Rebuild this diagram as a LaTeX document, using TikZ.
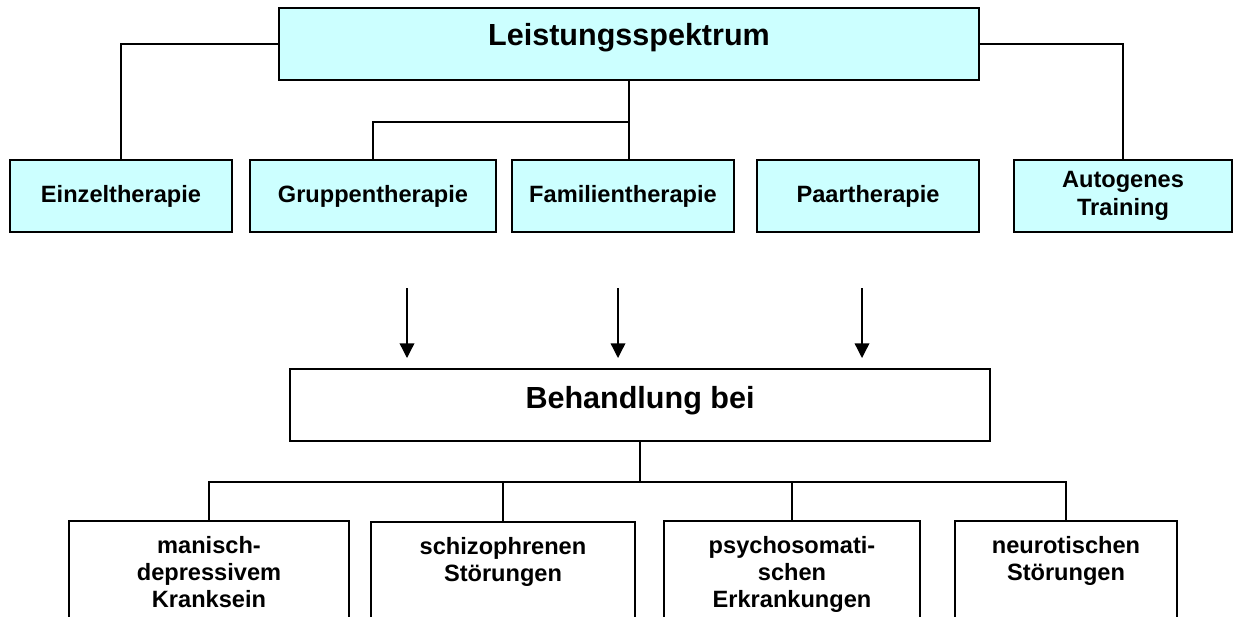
\documentclass[tikz,border=0pt]{standalone}
\usepackage{fontspec}
\setmainfont{Liberation Sans}
\usetikzlibrary{arrows.meta,calc,positioning}
\definecolor{boxcyan}{HTML}{CCFFFF}
\newcommand{\toplines}[1]{\begin{tabular}[t]{@{}c@{}}#1\end{tabular}}
\tikzset{%
	title/.style    = {draw, line width=1.4pt, inner sep=0pt, font=\fontsize{22.9}{27}\selectfont\bfseries},
	therapy/.style  = {draw, fill=boxcyan, line width=1.4pt, inner sep=0pt, minimum height=54pt, align=center, font=\fontsize{17.7}{20.5}\selectfont\bfseries},
	disorder/.style = {draw, line width=1.4pt, inner sep=0pt, anchor=north, text height=24.75pt, text depth=90pt, font=\fontsize{17.7}{20}\selectfont\bfseries},
	link/.style     = {line width=1.4pt},
	arrow/.style    = {line width=1pt, -{Triangle[length=11pt,width=11pt]}},
}

\begin{document}
\begin{tikzpicture}[x=0.75pt, y=-0.75pt]
	\useasboundingbox (0,0) rectangle (1235,617);
	\clip (0,0) rectangle (1235,617);
	% top level
	\node[title, fill=boxcyan, minimum width=525pt, text height=28.5pt, text depth=25.5pt] (spektrum) at (629,44) {Leistungsspektrum};
	\node[therapy, minimum width=166.5pt] (einzel) at (121,196) {Einzeltherapie};
	\node[therapy, minimum width=184.5pt] (gruppe) at (373,196) {Gruppentherapie};
	\node[therapy, minimum width=166.5pt] (familie) at (623,196) {Familientherapie};
	\node[therapy, minimum width=166.5pt] (paar) at (868,196) {Paartherapie};
	\node[therapy, minimum width=163.5pt] (autogen) at (1123,196) {Autogenes\\Training};
	\coordinate (fork) at ($(spektrum.south)+(0,41)$);
	\draw[link] (spektrum.west) -| (einzel.north);
	\draw[link] (spektrum.east) -| (autogen.north);
	\draw[link] (spektrum.south) -- (spektrum.south |- familie.north);
	\draw[link] (fork) -| (gruppe.north);
	% arrows
	\node[title, minimum width=525pt, text height=29.25pt, text depth=24.75pt] (behandlung) at (640,405) {Behandlung bei};
	\coordinate (a1) at (407,288);
	\coordinate (a2) at (618,288);
	\coordinate (a3) at (862,288);
	\draw[arrow] (a1) -- ++(0,70);
	\draw[arrow] (a2) -- ++(0,70);
	\draw[arrow] (a3) -- ++(0,70);
	% bottom level
	\node[disorder, minimum width=210pt] (manisch) at (209,520) {\toplines{manisch-\\depressivem\\Kranksein}};
	\node[disorder, minimum width=198pt] (schizo) at (503,521) {\toplines{schizophrenen\\Störungen}};
	\node[disorder, minimum width=192pt] (psycho) at (792,520) {\toplines{psychosomati-\\schen\\Erkrankungen}};
	\node[disorder, minimum width=166.5pt] (neuro) at (1066,520) {\toplines{neurotischen\\Störungen}};
	\coordinate (hub) at ($(behandlung.south)+(0,40)$);
	\draw[link] (behandlung.south) -- (hub);
	\draw[link] (manisch.north) |- (hub) -| (neuro.north);
	\draw[link] (schizo.north) -- (schizo.north |- hub);
	\draw[link] (psycho.north) -- (psycho.north |- hub);
\end{tikzpicture}
\end{document}
